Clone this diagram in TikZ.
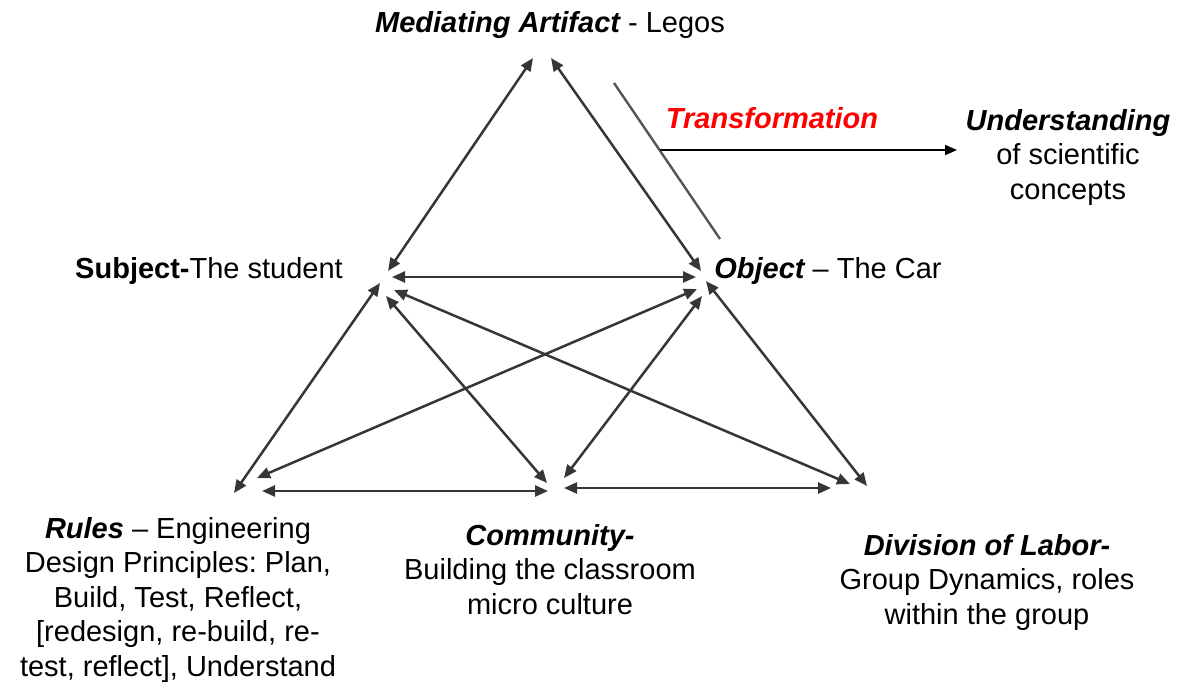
\documentclass[tikz,border=0pt]{standalone}
\usepackage{fontspec}
\setmainfont{Liberation Sans}
\usetikzlibrary{arrows.meta}
\definecolor{linegray}{HTML}{363636}
\definecolor{tgray}{HTML}{555555}
\definecolor{tred}{HTML}{FF0000}
\tikzset{
  link/.style={draw=linegray, line width=2.5pt,
    {Triangle[length=13pt,width=11pt]}-{Triangle[length=13pt,width=11pt]}},
  lbl/.style={inner sep=0pt, font=\fontsize{29}{34.5}\selectfont, align=center}
}
\newcommand{\bit}[1]{{\bfseries\itshape #1}}
\frenchspacing
\begin{document}
\begin{tikzpicture}[x=1pt,y=-1pt]
\useasboundingbox (0,0) rectangle (1177,689);
% end points
\coordinate (apL) at (533,58);
\coordinate (apR) at (551,58);
\coordinate (sA) at (388,271);
\coordinate (oA) at (701,271);
\coordinate (sB) at (380,283);
\coordinate (rA) at (234,493);
\coordinate (oB) at (706,281);
\coordinate (dA) at (867,486);
\coordinate (sC) at (392,277);
\coordinate (oC) at (696,277);
\coordinate (sD) at (394,290);
\coordinate (dB) at (850,484);
\coordinate (sE) at (386,296);
\coordinate (cA) at (547,483);
\coordinate (oD) at (697,289);
\coordinate (rB) at (257,478);
\coordinate (oE) at (702,296);
\coordinate (cB) at (564,478);
\coordinate (rC) at (262,491);
\coordinate (cC) at (548,491);
\coordinate (cD) at (564,488);
\coordinate (dC) at (831,488);
\coordinate (tA) at (614,83);
\coordinate (tB) at (720,239);
\coordinate (tS) at (660,150);
\coordinate (tE) at (957,150);
% connectors
\draw[link] (sA) -- (apL);
\draw[link] (oA) -- (apR);
\draw[link] (sB) -- (rA);
\draw[link] (oB) -- (dA);
\draw[link] (sC) -- (oC);
\draw[link] (sD) -- (dB);
\draw[link] (sE) -- (cA);
\draw[link] (oD) -- (rB);
\draw[link] (oE) -- (cB);
\draw[link] (rC) -- (cC);
\draw[link] (cD) -- (dC);
\draw[draw=tgray, line width=2.4pt] (tA) -- (tB);
\draw[draw=black, line width=2pt, -{Triangle[length=12pt,width=10pt]}] (tS) -- (tE);
% labels
\node[lbl, anchor=base] (med) at (550,32) {\bit{Mediating Artifact} - Legos};
\node[lbl, anchor=base, text=tred] (trans) at (772,128) {\bit{Transformation}};
\node[lbl, anchor=north] (und) at (1068,109) {\bit{Understanding}\\of scientific\\concepts};
\node[lbl, anchor=base] (subj) at (209,278) {\textbf{Subject-}The student};
\node[lbl, anchor=base] (obj) at (828,278) {\bit{Object} -- The Car};
\node[lbl, anchor=north] (rules) at (178,517) {\bit{Rules} -- Engineering\\Design Principles: Plan,\\Build, Test, Reflect,\\{[}redesign, re-build, re-\\test, reflect], Understand};
\node[lbl, anchor=north] (comm) at (550,524) {\bit{Community-}\\Building the classroom\\micro culture};
\node[lbl, anchor=north] (div) at (987,534) {\bit{Division of Labor-}\\Group Dynamics, roles\\within the group};
\end{tikzpicture}
\end{document}
